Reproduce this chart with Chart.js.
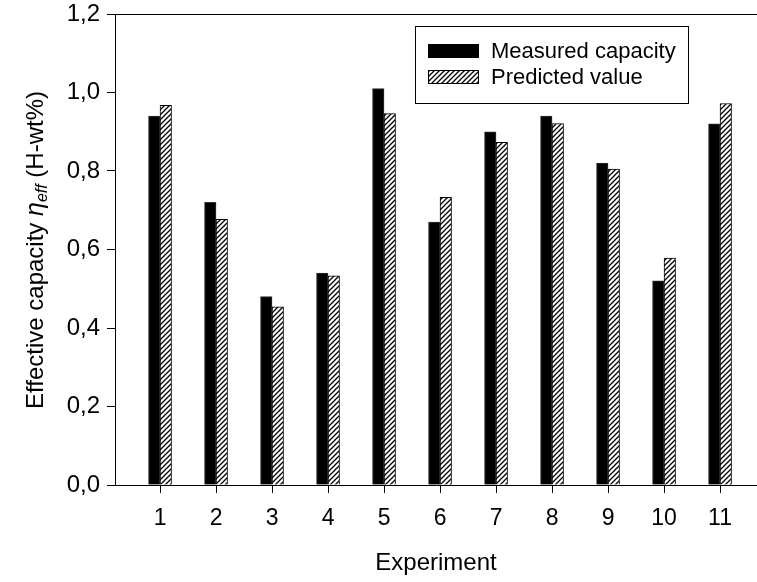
<!DOCTYPE html>
<html>
<head>
<meta charset="utf-8">
<script src="https://cdn.jsdelivr.net/npm/chart.js@4"></script>
<style>
  html, body { margin: 0; padding: 0; background: #fff; }
  #wrap { width: 757px; height: 582px; }
</style>
</head>
<body>
<div id="wrap"><canvas id="myChart" width="757" height="582"></canvas></div>
<script>
/* Effective capacity per experiment */

let experiments = [1, 2, 3, 4, 5, 6, 7, 8, 9, 10, 11];
let measured = [0.94, 0.72, 0.48, 0.54, 1.01, 0.67, 0.90, 0.94, 0.82, 0.52, 0.92];
let predicted = [0.967, 0.677, 0.454, 0.533, 0.946, 0.733, 0.873, 0.921, 0.805, 0.578, 0.972];
let yTicks = [0, 0.2, 0.4, 0.6, 0.8, 1.0, 1.2];

let FONT = "'Liberation Sans', Arial, Helvetica, sans-serif";

function hatch_pattern() {
  let s = 5;
  let c = document.createElement("canvas");
  c.width = s;
  c.height = s;
  let g = c.getContext("2d");
  g.fillStyle = "#fff";
  g.fillRect(0, 0, s, s);
  g.strokeStyle = "#000";
  g.lineWidth = 1.3;
  g.beginPath();
  g.moveTo(-1, s + 1); g.lineTo(s + 1, -1);
  g.moveTo(-1, 1); g.lineTo(1, -1);
  g.moveTo(s - 1, s + 1); g.lineTo(s + 1, s - 1);
  g.stroke();
  return g.createPattern(c, "repeat");
}

let hatch = hatch_pattern();

function points(vals) {
  return experiments.map((x, i) => ({ x: x, y: vals[i] }));
}

// top frame line, boxed legend and y title with subscript
let extras = {
  id: "extras",
  afterDraw(chart) {
    let ctx = chart.ctx;
    let a = chart.chartArea;
    ctx.save();
    ctx.strokeStyle = "#000";
    ctx.lineWidth = 1;
    ctx.beginPath();
    ctx.moveTo(a.left, a.top + 0.5);
    ctx.lineTo(a.right, a.top + 0.5);
    ctx.stroke();

    // legend
    ctx.strokeRect(415.5, 26.5, 273, 77);
    let ds = chart.data.datasets;
    let rows = [51, 77];
    ds.forEach((d, i) => {
      ctx.fillStyle = d.backgroundColor;
      ctx.fillRect(428, rows[i] - 7, 51, 14);
      ctx.strokeStyle = "#000";
      ctx.strokeRect(428.5, rows[i] - 6.5, 50, 13);
      ctx.fillStyle = "#000";
      ctx.font = "22px " + FONT;
      ctx.textBaseline = "middle";
      ctx.textAlign = "left";
      ctx.fillText(d.label, 491, rows[i] + 1);
    });

    // y title
    ctx.translate(36, 250);
    ctx.rotate(-Math.PI / 2);
    ctx.textBaseline = "middle";
    ctx.textAlign = "left";
    let parts = [
      ["Effective capacity ", "24px " + FONT, 0],
      ["\u03B7", "italic 25px " + FONT, 0],
      ["eff", "italic 16px " + FONT, 7],
      [" (H-wt%)", "24px " + FONT, 0],
    ];
    let total = 0;
    parts.forEach((p) => { ctx.font = p[1]; total += ctx.measureText(p[0]).width; });
    let x = -total / 2;
    parts.forEach((p) => {
      ctx.font = p[1];
      ctx.fillText(p[0], x, p[2]);
      x += ctx.measureText(p[0]).width;
    });
    ctx.restore();
  },
};

new Chart("myChart", {
  type: "bar",
  data: {
    datasets: [
      {
        label: "Measured capacity",
        data: points(measured),
        backgroundColor: "#000",
        borderColor: "#333",
        borderWidth: 1,
        barThickness: 11.5,
      },
      {
        label: "Predicted value",
        data: points(predicted),
        backgroundColor: hatch,
        borderColor: "#000",
        borderWidth: 1,
        barThickness: 11.5,
      },
    ],
  },
  options: {
    responsive: false,
    animation: false,
    layout: { padding: { top: 14, right: 0, left: 0, bottom: 0 } },
    plugins: { legend: { display: false }, tooltip: { enabled: false } },
    scales: {
      x: {
        type: "linear",
        offset: false,
        min: 0.196,
        max: 11.66,
        afterBuildTicks(scale) {
          scale.ticks = experiments.map((v) => ({ value: v }));
        },
        afterFit(scale) {
          scale.height = 97;
          scale.paddingLeft = 0;
          scale.paddingRight = 0;
        },
        ticks: {
          color: "#000",
          font: { family: FONT, size: 23 },
          padding: 12,
          maxRotation: 0,
          autoSkip: false,
          callback: (v) => String(v),
        },
        grid: { offset: false, drawOnChartArea: false, drawTicks: true, tickLength: 8, color: "#000" },
        border: { display: true, color: "#000", width: 1 },
        title: {
          display: true,
          text: "Experiment",
          color: "#000",
          font: { family: FONT, size: 24 },
          padding: { top: 8 },
        },
      },
      y: {
        min: 0,
        max: 1.2,
        afterBuildTicks(scale) {
          scale.ticks = yTicks.map((v) => ({ value: v }));
        },
        afterFit(scale) {
          scale.width = 115;
          scale.paddingTop = 0;
          scale.paddingBottom = 0;
        },
        ticks: {
          color: "#000",
          font: { family: FONT, size: 24 },
          padding: 7,
          callback: (v) => v.toFixed(1).replace(".", ","),
        },
        grid: { drawOnChartArea: false, drawTicks: true, tickLength: 8, color: "#000" },
        border: { display: true, color: "#000", width: 1 },
      },
    },
  },
  plugins: [extras],
});
</script>
</body>
</html>
